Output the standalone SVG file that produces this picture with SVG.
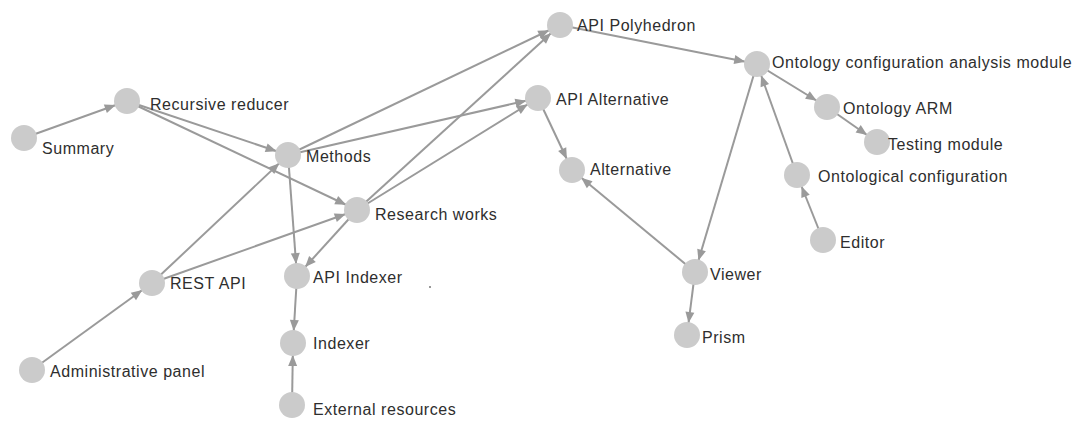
<svg xmlns="http://www.w3.org/2000/svg" width="1074" height="426" viewBox="0 0 1074 426">
  <style>
    .edge { stroke: #9a9a9a; stroke-width: 2; fill: none; marker-end: url(#arrow); }
    .node circle { fill: #cbcbcb; }
    .node text { font-family: "Liberation Sans", Arial, sans-serif; font-size: 16px; letter-spacing: 0.55px; fill: #2e2e2e; }
  </style>
  <defs>
    <!-- tip sits on the rim of a 13px node circle when the line ends at the node centre -->
    <marker id="arrow" markerUnits="userSpaceOnUse" markerWidth="12" markerHeight="10" refX="23" refY="0" orient="auto" overflow="visible" viewBox="0 -5 12 10">
      <path d="M0,-4.5 L11,0 L0,4.5 z" fill="#9a9a9a"/>
    </marker>
  </defs>
  <rect width="1074" height="426" fill="#ffffff"/>

  <g id="connectors">
    <line class="edge" x1="24" y1="138" x2="127" y2="101"/>
    <line class="edge" x1="127" y1="101" x2="288" y2="155"/>
    <line class="edge" x1="127" y1="101" x2="357" y2="210"/>
    <line class="edge" x1="288" y1="155" x2="560" y2="25"/>
    <line class="edge" x1="288" y1="155" x2="538" y2="98"/>
    <line class="edge" x1="288" y1="155" x2="297" y2="276"/>
    <line class="edge" x1="357" y1="210" x2="560" y2="25"/>
    <line class="edge" x1="357" y1="210" x2="538" y2="98"/>
    <line class="edge" x1="357" y1="210" x2="297" y2="276"/>
    <line class="edge" x1="152" y1="283" x2="288" y2="155"/>
    <line class="edge" x1="152" y1="283" x2="357" y2="210"/>
    <line class="edge" x1="32" y1="370" x2="152" y2="283"/>
    <line class="edge" x1="297" y1="276" x2="293" y2="343"/>
    <line class="edge" x1="292" y1="405" x2="293" y2="343"/>
    <line class="edge" x1="560" y1="25" x2="757" y2="64"/>
    <line class="edge" x1="538" y1="98" x2="572" y2="170"/>
    <line class="edge" x1="695" y1="272" x2="572" y2="170"/>
    <line class="edge" x1="757" y1="64" x2="695" y2="272"/>
    <line class="edge" x1="757" y1="64" x2="827" y2="107"/>
    <line class="edge" x1="827" y1="107" x2="877" y2="142"/>
    <line class="edge" x1="797" y1="175" x2="757" y2="64"/>
    <line class="edge" x1="823" y1="240" x2="797" y2="175"/>
    <line class="edge" x1="695" y1="272" x2="687" y2="335"/>
  </g>

  <g id="summary" class="node"><circle cx="24" cy="138" r="13"/><text x="42" y="154">Summary</text></g>
  <g id="recursive-reducer" class="node"><circle cx="127" cy="101" r="13"/><text x="150" y="110">Recursive reducer</text></g>
  <g id="methods" class="node"><circle cx="288" cy="155" r="13"/><text x="306" y="162">Methods</text></g>
  <g id="research-works" class="node"><circle cx="357" cy="210" r="13"/><text x="375" y="220">Research works</text></g>
  <g id="rest-api" class="node"><circle cx="152" cy="283" r="13"/><text x="170" y="289">REST API</text></g>
  <g id="api-indexer" class="node"><circle cx="297" cy="276" r="13"/><text x="313" y="283">API Indexer</text></g>
  <g id="administrative-panel" class="node"><circle cx="32" cy="370" r="13"/><text x="50" y="377">Administrative panel</text></g>
  <g id="indexer" class="node"><circle cx="293" cy="343" r="13"/><text x="313" y="349">Indexer</text></g>
  <g id="external-resources" class="node"><circle cx="292" cy="405" r="13"/><text x="313" y="415">External resources</text></g>
  <g id="api-polyhedron" class="node"><circle cx="560" cy="25" r="13"/><text x="577" y="31">API Polyhedron</text></g>
  <g id="ontology-configuration-analysis-module" class="node"><circle cx="757" cy="64" r="13"/><text x="772" y="68">Ontology configuration analysis module</text></g>
  <g id="api-alternative" class="node"><circle cx="538" cy="98" r="13"/><text x="556" y="105">API Alternative</text></g>
  <g id="alternative" class="node"><circle cx="572" cy="170" r="13"/><text x="590" y="175">Alternative</text></g>
  <g id="ontology-arm" class="node"><circle cx="827" cy="107" r="13"/><text x="843" y="114">Ontology ARM</text></g>
  <g id="testing-module" class="node"><circle cx="877" cy="142" r="13"/><text x="888" y="150">Testing module</text></g>
  <g id="ontological-configuration" class="node"><circle cx="797" cy="175" r="13"/><text x="818" y="182">Ontological configuration</text></g>
  <g id="editor" class="node"><circle cx="823" cy="240" r="13"/><text x="840" y="248">Editor</text></g>
  <g id="viewer" class="node"><circle cx="695" cy="272" r="13"/><text x="710" y="280">Viewer</text></g>
  <g id="prism" class="node"><circle cx="687" cy="335" r="13"/><text x="702" y="343">Prism</text></g>

  <!-- stray point beside the indexer label -->
  <circle cx="430" cy="287" r="1" fill="#777"/>
</svg>
